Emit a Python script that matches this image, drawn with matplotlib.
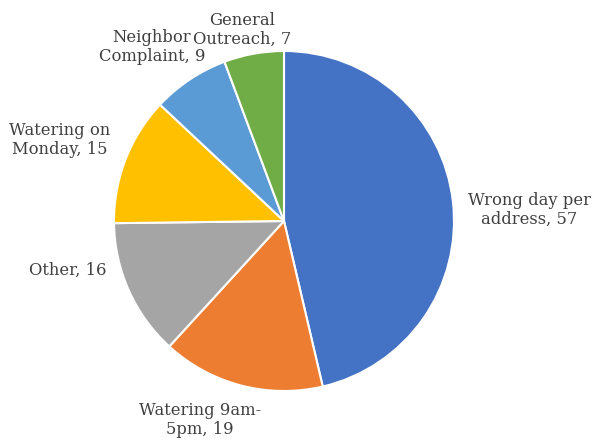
import matplotlib
matplotlib.use("Agg")
import matplotlib.pyplot as plt

categories = ["Wrong day per\naddress", "Watering 9am-\n5pm", "Other", "Watering on\nMonday",
              "Neighbor\nComplaint", "General\nOutreach"]
values = [57, 19, 16, 15, 9, 7]
colors = ["#4472C4", "#ED7D31", "#A5A5A5", "#FFC000", "#5B9BD5", "#70AD47"]
label_pos = [(529, 233), (200, 23), (68, 173), (60, 303), (152, 396), (242, 413)]

W, H = 592, 443
fig = plt.figure(figsize=(W / 100, H / 100), dpi=100)
ax = fig.add_axes([0, 0, 1, 1])
ax.set_xlim(0, W)
ax.set_ylim(0, H)
ax.set_aspect("equal")
ax.axis("off")

ax.pie(values, colors=colors, startangle=90, counterclock=False,
       center=(284, 222), radius=170,
       wedgeprops=dict(edgecolor="white", linewidth=1.5))
ax.set_xlim(0, W)
ax.set_ylim(0, H)

for cat, v, (x, y) in zip(categories, values, label_pos):
    ax.text(x, y, f"{cat}, {v}", ha="center", va="center", fontsize=11.8,
            family="DejaVu Serif", color="#404040", linespacing=1.2)

fig.savefig("out.png", dpi=100, facecolor="white")
